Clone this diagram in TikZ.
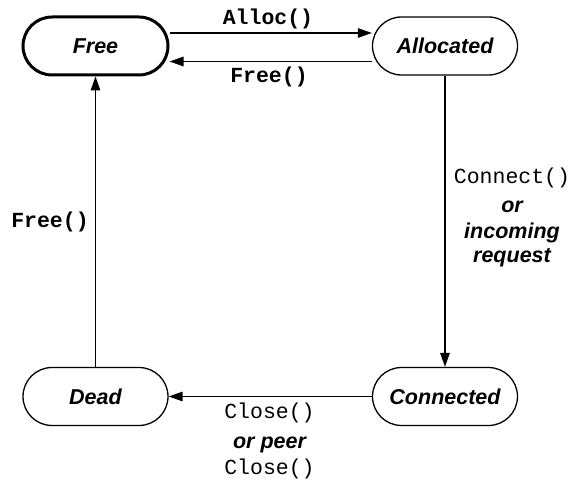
\documentclass[tikz,border=0pt]{standalone}
\usepackage{fontspec}
\setmainfont{Liberation Sans}
\setmonofont{Liberation Mono}
\usetikzlibrary{arrows.meta,shapes.misc}
\begin{document}
\begin{tikzpicture}[x=1pt,y=-1pt,
  state/.style={draw, rounded rectangle, line width=1.3pt,
    minimum width=145pt, minimum height=58pt, inner sep=0pt,
    font=\fontsize{21.5}{24}\selectfont\bfseries\itshape},
  initial/.style={state, line width=3pt},
  arr/.style={-{Triangle[length=14pt,width=9.5pt]}, line width=1.3pt},
  codebold/.style={anchor=base, inner sep=0pt, font=\fontsize{21.5}{24}\selectfont\ttfamily\bfseries},
  code/.style={anchor=base, inner sep=0pt, font=\fontsize{21.5}{24}\selectfont\ttfamily},
  note/.style={anchor=base, inner sep=0pt, font=\fontsize{21.5}{24}\selectfont\bfseries\itshape}]
\useasboundingbox (0,0) rectangle (571,481);

% states
\node[initial] (free)  at (95.5,46)  {Free};
\node[state]   (alloc) at (445,46)   {Allocated};
\node[state]   (dead)  at (95.5,396.5) {Dead};
\node[state]   (conn)  at (445,396.5)  {Connected};

% transitions
\draw[arr] ([yshift=13pt]free.east) -- ([yshift=13pt]alloc.west);
\draw[arr] ([yshift=-15.5pt]alloc.west) -- ([yshift=-15.5pt]free.east);
\draw[arr] (alloc.south) -- (conn.north);
\draw[arr] (conn.west) -- (dead.east);
\draw[arr] (dead.north) -- (free.south);

% transition labels
\node[codebold] (lalloc) at (268,25)  {Alloc()};
\node[codebold] (lfree)  at (269,83)  {Free()};
\node[codebold] (lfreeb) at (50,228)  {Free()};

\node[code] (lconn) at (512,184) {Connect()};
\node[note] (lor)   at (512,213) {or};
\node[note] (linc)  at (512,239) {incoming};
\node[note] (lreq)  at (512,263) {request};

\node[code] (lclose)  at (269.5,418) {Close()};
\node[note] (lpeer)   at (269.5,448) {or peer};
\node[code] (lcloseb) at (269.5,475) {Close()};
\end{tikzpicture}
\end{document}
